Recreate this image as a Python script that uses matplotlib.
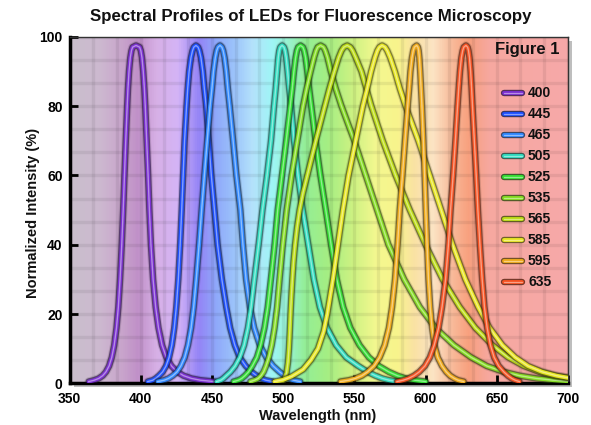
import numpy as np
import matplotlib
matplotlib.use("Agg")
import matplotlib.pyplot as plt
import matplotlib.patheffects as pe
from matplotlib.colors import LinearSegmentedColormap, to_rgb
from matplotlib.patches import Rectangle

plt.rcParams['font.family'] = ['Liberation Sans', 'DejaVu Sans']
plt.rcParams['font.weight'] = 'bold'

# ---------------- data ----------------
led_labels = ["400", "445", "465", "505", "525", "535", "565", "585", "595", "635"]
led_colors = ["#7b30d2", "#1d50ff", "#2f88ff", "#30dcc0", "#34e034",
              "#84dc22", "#bcdc14", "#e8e622", "#f0aa1a", "#f65222"]

# intensity levels (%) at which the narrow curves were read, left flank -> peak -> right flank
in_400 = [0.5, 0.9, 1.4, 2.2, 3.3, 5, 7.5, 11, 16, 22, 30, 40, 50, 60, 70, 80, 85, 90, 94, 96, 97, 97.5,
          97, 96, 94, 90, 85, 80, 70, 60, 50, 40, 30, 22, 16, 11, 7.5, 5, 3.3, 2.2, 1.4, 0.9, 0.5]
wl_400 = [363.5, 367.4, 370.5, 373.3, 375.6, 377.8, 379.7, 381.4, 383.0, 384.3, 385.5, 386.7, 387.7,
          388.6, 389.5, 390.5, 391.05, 391.8, 392.7, 393.5, 394.3, 396.7,
          399.25, 400.1, 400.9, 401.8, 402.6, 403.2, 404.2, 405.2, 406.1, 407.2, 408.7, 410.5, 412.5,
          415.0, 418.0, 421.6, 425.6, 430.1, 435.7, 441.8, 451.7]

in_445 = list(in_400)
wl_445 = [405.0, 408.5, 410.5, 412.8, 415.4, 417.8, 419.95, 421.84, 423.58, 425.0, 426.4, 427.7, 428.8,
          429.8, 430.8, 432.2, 433.0, 434.0, 435.3, 436.4, 437.3, 438.8,
          440.3, 441.2, 442.3, 443.6, 444.7, 446.0, 447.8, 449.6, 451.8, 454.0, 457.0, 460.1, 462.8,
          466.1, 469.5, 473.8, 477.8, 481.5, 484.8, 487.8, 492.8]

in_465 = list(in_400)
wl_465 = [412.0, 416.5, 419.5, 422.5, 425.5, 428.2, 430.9, 433.2, 435.4, 437.2, 439.0, 441.0, 442.8,
          444.7, 446.7, 448.7, 450.0, 451.1, 452.4, 453.4, 454.3, 455.7,
          457.0, 457.9, 458.9, 460.1, 461.2, 462.5, 464.9, 467.2, 470.0, 471.8, 474.0, 476.7, 479.7,
          483.6, 488.2, 493.0, 497.5, 501.0, 504.0, 507.0, 512.0]

in_505 = list(in_400)
wl_505 = [453.3, 456.3, 458.0, 460.1, 463.0, 466.3, 469.6, 472.6, 475.3, 477.5, 479.8, 482.8, 485.5,
          488.7, 491.5, 493.6, 494.8, 495.8, 496.6, 497.3, 498.0, 499.3,
          500.6, 501.4, 502.2, 503.2, 504.3, 505.6, 507.7, 510.5, 513.8, 517.7, 521.6, 525.8, 530.8,
          537.3, 544.3, 552.8, 559.3, 564.8, 569.8, 574.3, 580.3]

in_525 = list(in_400)
wl_525 = [465.2, 468.7, 470.9, 473.2, 475.7, 478.4, 481.6, 484.2, 486.9, 489.2, 491.4, 494.0, 496.2,
          499.2, 502.2, 505.0, 506.4, 507.6, 508.8, 509.7, 510.6, 512.2,
          513.9, 514.8, 515.8, 517.0, 518.3, 519.8, 522.8, 526.2, 530.0, 533.7, 537.7, 542.2, 547.2,
          553.7, 560.2, 567.2, 574.2, 580.2, 586.2, 592.2, 600.2]

in_535 = [0.5, 0.9, 1.4, 2.2, 3.3, 5, 7.5, 11, 16, 22, 30, 40, 50, 60, 70, 80, 85, 90, 94, 96, 97, 97.5,
          97, 96, 94, 90, 85, 80, 70, 60, 50, 40, 30, 22, 16, 11, 7.5, 5, 3.3, 2.2, 1.4, 0.9, 0.6]
wl_535 = [477.0, 480.0, 482.5, 484.5, 486.3, 488.0, 490.0, 492.0, 494.0, 495.8, 497.5, 499.8, 502.5,
          506.0, 510.0, 514.0, 516.5, 519.3, 521.7, 523.2, 524.3, 526.3,
          528.4, 529.6, 531.2, 533.5, 537.0, 541.0, 550.0, 558.0, 566.0, 574.0, 585.0, 596.0, 607.0,
          620.0, 632.0, 643.0, 655.0, 666.0, 678.0, 690.0, 700.0]

in_565 = [0.2, 0.6, 1.5, 3, 6, 10, 15, 20, 25, 30, 35, 40, 45, 50, 55, 60, 70, 80, 85, 90, 94, 96, 97, 97.5,
          97, 96, 94, 90, 85, 80, 70, 60, 50, 40, 30, 22, 16, 11, 7.5, 5, 3.3, 2.2, 1.6]
wl_565 = [497.0, 499.5, 501.2, 502.4, 503.4, 504.1, 504.7, 505.2, 505.8, 506.5, 507.3, 508.4, 509.8,
          511.6, 514.0, 517.0, 523.0, 529.3, 532.5, 536.0, 539.0, 541.0, 542.6, 545.0,
          547.2, 548.8, 551.0, 555.0, 558.5, 562.0, 570.0, 579.0, 589.0, 600.0, 612.0, 624.0, 635.0,
          647.0, 658.0, 669.0, 680.0, 690.0, 700.0]

in_585 = [0.5, 1, 2, 4, 6.7, 10, 15, 20, 30, 40, 50, 60, 70, 80, 85, 90, 94, 96, 97, 97.5,
          97, 96, 94, 90, 85, 80, 70, 60, 50, 40, 30, 22, 16, 11, 7.5, 5, 3.3, 2.2, 1.6]
wl_585 = [494.0, 500.0, 506.0, 514.0, 519.5, 524.5, 528.5, 531.0, 535.0, 538.5, 542.0, 546.0, 551.0,
          556.0, 559.0, 561.8, 564.5, 566.2, 567.6, 569.5,
          571.6, 573.1, 575.2, 578.5, 582.0, 586.0, 595.0, 603.0, 611.0, 619.0, 628.0, 637.0, 645.0,
          654.0, 663.0, 672.0, 682.0, 692.0, 700.0]

in_595 = list(in_400)
wl_595 = [540.3, 546.3, 550.8, 555.3, 559.3, 563.8, 567.8, 571.3, 574.3, 576.5, 578.6, 580.4, 581.9,
          583.8, 585.6, 587.5, 588.5, 589.4, 590.5, 591.4, 592.2, 593.8,
          594.7, 595.2, 595.7, 596.3, 596.9, 597.5, 598.5, 599.4, 600.2, 601.1, 602.1, 603.3, 604.6,
          606.3, 608.6, 611.6, 614.6, 617.3, 620.3, 622.8, 626.8]

in_635 = list(in_400)
wl_635 = [580.0, 584.4, 588.0, 591.9, 595.6, 599.6, 603.1, 606.1, 609.2, 611.6, 614.1, 616.1, 617.6,
          619.4, 621.0, 622.5, 623.3, 624.2, 625.2, 626.1, 626.9, 628.4,
          629.6, 630.2, 630.9, 631.7, 632.4, 633.0, 634.3, 635.6, 636.8, 638.2, 639.8, 641.4, 643.3,
          645.6, 648.2, 651.4, 655.0, 657.9, 660.6, 662.9, 665.9]

wavelengths = [wl_400, wl_445, wl_465, wl_505, wl_525, wl_535, wl_565, wl_585, wl_595, wl_635]
intensities = [in_400, in_445, in_465, in_505, in_525, in_535, in_565, in_585, in_595, in_635]

x_ticks = [350, 400, 450, 500, 550, 600, 650, 700]
y_ticks = [0, 20, 40, 60, 80, 100]

# background spectrum colour stops (wavelength, colour)
bg_wl = [350, 370, 385, 397, 410, 425, 440, 452, 465, 478, 492, 505, 515, 530, 548, 565, 580, 592,
         605, 618, 630, 645, 700]
bg_col = ['#c9bfcc', '#cdb9d0', '#c9a6cc', '#c090c8', '#d7b0e6', '#d4b4f6', '#9484f6', '#8fa8fa',
          '#9cc4fb', '#b4e2fb', '#9ef6f6', '#98f2c8', '#94ee96', '#a4ee84', '#ccf282', '#f4f890',
          '#f8f48c', '#fae2a4', '#fce4c4', '#f8bc9c', '#f8a07e', '#f6a8a0', '#f7a9a9']

# ---------------- figure ----------------
W, H = 591, 425
fig = plt.figure(figsize=(W / 100, H / 100), dpi=100)
fig.patch.set_facecolor('white')
L, B = 69.5 / W, 1 - 383.3 / H
AW, AH = 498.4 / W, 346.5 / H
ax = fig.add_axes([L, B, AW, AH])

# drop shadow of the plot box
fig.patches.append(Rectangle((L + 4 / W, B - 4 / H), AW, AH, transform=fig.transFigure,
                             facecolor='#8a8a8a', edgecolor='none', alpha=0.55, zorder=-5))

xmin, xmax, ymin, ymax = 350, 700, 0, 100
pos = [(w - xmin) / (xmax - xmin) for w in bg_wl]
cmap = LinearSegmentedColormap.from_list('spec', list(zip(pos, bg_col)))
grad = np.linspace(0, 1, 700).reshape(1, -1)
ax.imshow(grad, cmap=cmap, aspect='auto', extent=[xmin, xmax, ymin, ymax], origin='lower', zorder=0,
          interpolation='bilinear')

for v in np.arange(xmin, xmax + 1e-6, 50 / 3):
    ax.axvline(v, color='black', alpha=0.065, lw=2.4, zorder=1)
for h in np.arange(ymin, ymax + 1e-6, 20 / 3):
    ax.axhline(h, color='black', alpha=0.065, lw=2.4, zorder=1)


def darker(c, f=0.35):
    r, g, b = to_rgb(c)
    return (r * f, g * f, b * f)


def lighter(c, f=0.45):
    r, g, b = to_rgb(c)
    return (r + (1 - r) * f, g + (1 - g) * f, b + (1 - b) * f)


for i, (wl, it, col) in enumerate(zip(wavelengths, intensities, led_colors)):
    z = 3 + i
    ax.plot(wl, it, color=col, lw=2.8, zorder=z, solid_capstyle='round', solid_joinstyle='round',
            path_effects=[pe.Stroke(linewidth=6.2, foreground=(0, 0, 0, 0.12)),
                          pe.Stroke(linewidth=4.7, foreground=darker(col) + (0.65,)),
                          pe.Normal()])
    ax.plot(wl, it, color=lighter(col), lw=1.0, zorder=z, solid_joinstyle='round')

ax.set_xlim(xmin, xmax)
ax.set_ylim(ymin, ymax)
ax.set_xticks(x_ticks)
ax.set_yticks(y_ticks)
ax.set_xticklabels([str(t) for t in x_ticks], fontsize=10, fontweight='bold')
ax.set_yticklabels([str(t) for t in y_ticks], fontsize=10, fontweight='bold')
ax.tick_params(axis='both', direction='in', length=6, width=2, color='black')
ax.tick_params(axis='x', pad=6)
ax.tick_params(axis='y', pad=5)

for s in ['left', 'bottom']:
    ax.spines[s].set_linewidth(2.5)
    ax.spines[s].set_color('black')
for s in ['top', 'right']:
    ax.spines[s].set_linewidth(1.0)
    ax.spines[s].set_color('#333333')

# legend drawn inside the plot
for i, (lab, col) in enumerate(zip(led_labels, led_colors)):
    py = 92.7 + 21.0 * i
    ya = (383.3 - py) / 346.5
    ax.plot([0.871, 0.908], [ya, ya], transform=ax.transAxes, color=col, lw=2.8, zorder=20,
            solid_capstyle='round',
            path_effects=[pe.Stroke(linewidth=4.6, foreground=darker(col) + (0.8,), capstyle='round'),
                          pe.Normal()])
    ax.plot([0.871, 0.908], [ya, ya], transform=ax.transAxes, color=lighter(col), lw=0.9, zorder=21,
            solid_capstyle='round')
    ax.text(0.92, ya, lab, transform=ax.transAxes, fontsize=10, fontweight='bold', va='center',
            ha='left', color='#111111', zorder=22)

ax.text(0.918, 0.962, 'Figure 1', transform=ax.transAxes, fontsize=12, fontweight='bold',
        ha='center', va='center', color='#111111', zorder=22)

fig.text(0.526, 0.96, 'Spectral Profiles of LEDs for Fluorescence Microscopy', ha='center', va='center',
         fontsize=12.2, fontweight='bold', color='#111111')
fig.text(0.538, 0.022, 'Wavelength (nm)', ha='center', va='center', fontsize=10.5, fontweight='bold',
         color='#111111')
fig.text(0.056, 0.5, 'Normalized Intensity (%)', ha='center', va='center', rotation=90, fontsize=10.5,
         fontweight='bold', color='#111111')

fig.savefig('out.png', dpi=100, facecolor='white')
